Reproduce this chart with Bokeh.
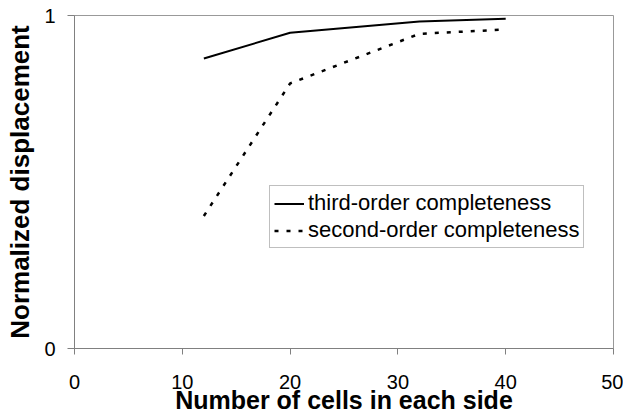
from bokeh.plotting import figure
from bokeh.models import Range1d, FixedTicker, Legend, LegendItem
from bokeh.embed import file_html
from bokeh.resources import INLINE

# Data
cells = [12, 20, 32, 40]
third_order = [0.871, 0.948, 0.982, 0.990]
second_order = [0.398, 0.796, 0.945, 0.958]
x_ticks = [0, 10, 20, 30, 40, 50]
y_ticks = [0, 1]

FONT = "Liberation Sans"
AXIS_GREY = "#808080"

p = figure(width=623, height=416, output_backend="svg", toolbar_location=None,
           x_range=Range1d(0, 50), y_range=Range1d(0, 1),
           min_border_left=74, min_border_right=10, min_border_top=15, min_border_bottom=67)
p.background_fill_color = "white"
p.border_fill_color = "white"
p.outline_line_color = "#999999"
p.outline_line_width = 1
p.grid.visible = False

r3 = p.line(cells, third_order, line_color="black", line_width=2)
r2 = p.line(cells, second_order, line_color="black", line_width=2.5, line_dash="4 8")

for ax in (p.xaxis[0], p.yaxis[0]):
    ax.axis_line_color = AXIS_GREY
    ax.major_tick_line_color = AXIS_GREY
    ax.minor_tick_line_color = None
    ax.major_tick_in = 0
    ax.major_label_text_font = FONT
    ax.major_label_text_font_size = "20px"
    ax.major_label_text_color = "black"
    ax.axis_label_text_font = FONT
    ax.axis_label_text_font_size = "25px"
    ax.axis_label_text_font_style = "bold"
    ax.axis_label_text_color = "black"

p.yaxis.axis_label_text_font_size = "26px"
p.xaxis.ticker = FixedTicker(ticks=x_ticks)
p.yaxis.ticker = FixedTicker(ticks=y_ticks)
p.xaxis.major_tick_out = 6
p.yaxis.major_tick_out = 7
p.xaxis.major_label_standoff = 20
p.yaxis.major_label_standoff = 12
p.xaxis.axis_label = "Number of cells in each side"
p.yaxis.axis_label = "Normalized displacement"
p.xaxis.axis_label_standoff = -6
p.yaxis.axis_label_standoff = 6

legend = Legend(items=[LegendItem(label="third-order completeness", renderers=[r3]),
                       LegendItem(label="second-order completeness", renderers=[r2])],
                location=(195, 100))
legend.label_text_font = FONT
legend.label_text_font_size = "22px"
legend.label_text_color = "black"
legend.border_line_color = AXIS_GREY
legend.border_line_width = 1
legend.background_fill_color = "white"
legend.background_fill_alpha = 1
legend.padding = 4
legend.spacing = 1
legend.margin = 0
legend.glyph_width = 30
legend.glyph_height = 25
legend.label_height = 25
legend.label_standoff = 4
p.add_layout(legend, "center")

open("out.html", "w").write(file_html(p, INLINE))
